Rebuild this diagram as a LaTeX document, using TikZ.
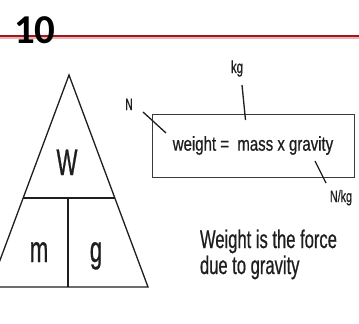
\documentclass[tikz,border=0pt]{standalone}
\usepackage{fontspec}
\setmainfont{Liberation Sans}
\newfontfamily\titlefont{Carlito}
\newfontfamily\cnA[FakeStretch=0.6,FakeBold=0.6]{Liberation Sans}
\newfontfamily\cnB[FakeStretch=0.65,FakeBold=0.6]{Liberation Sans}
\newfontfamily\cnC[FakeStretch=0.75,FakeBold=0.6]{Liberation Sans}
\definecolor{darkred}{HTML}{9E1A1A}
\definecolor{pinkline}{HTML}{E9B3B3}
\definecolor{ink}{HTML}{1E1E1E}
\definecolor{boxline}{HTML}{3A3A3A}
\tikzset{
  lbl/.style={inner sep=0pt, outer sep=0pt, text=ink, anchor=base},
  bigl/.style={lbl, font=\cnA\fontsize{37}{40}\selectfont},
  smalll/.style={lbl, font=\cnB\fontsize{16.5}{18}\selectfont},
  tick/.style={draw=ink, line width=1.3pt},
  tri/.style={draw=ink, line width=1.3pt},
  eqbox/.style={draw=boxline, line width=1pt, minimum width=202pt, minimum height=63pt, inner sep=0pt,
    text=ink, font=\cnC\fontsize{20}{24}\selectfont},
  sent/.style={lbl, anchor=base west, font=\cnB\fontsize{25.5}{24}\selectfont}
}
\begin{document}
\begin{tikzpicture}[x=1pt, y=-1pt]
\useasboundingbox (0,0) rectangle (359,324);
\fill[white] (0,0) rectangle (359,324);
% header rule
\draw[pinkline, line width=2pt] (0,37.7) -- (359,37.7);
\draw[darkred, line width=2pt] (0,35.5) -- (359,35.5);
\node[inner sep=0pt, anchor=base west, font=\titlefont\bfseries\fontsize{41}{44}\selectfont] (title) at (14,43) {10};
% triangle
\begin{scope}
\clip (0,0) rectangle (359,324);
\draw[tri, line join=miter] (69,75) -- (148,287) -- (-10,287) -- cycle;
\draw[tri] (23.2,198) -- (114.8,198);
\draw[tri] (68,198) -- (68,287);
\end{scope}
\node[bigl] (W) at (67,175) {W};
\node[bigl] (m) at (39,262) {m};
\node[bigl] (g) at (96,262) {g};
% equation box
\node[eqbox] (box) at (253,145.5) {weight =\ \ mass x gravity};
\node[smalll, font=\cnA\fontsize{16.5}{18}\selectfont] (N) at (129,110) {N};
\node[smalll, font=\cnB\fontsize{17.5}{19}\selectfont] (kg) at (237,73) {kg};
\node[smalll] (Nkg) at (341,202) {N/kg};
\coordinate (nA) at (143,112);
\coordinate (nB) at (166,133);
\coordinate (kA) at (242,85);
\coordinate (kB) at (245.5,120);
\coordinate (gA) at (315,161);
\coordinate (gB) at (326,183);
\draw[tick] (nA) -- (nB);
\draw[tick] (kA) -- (kB);
\draw[tick] (gA) -- (gB);
% sentence
\node[sent] (s1) at (200,248) {Weight is the force};
\node[sent] (s2) at (200,274) {due to gravity};
\end{tikzpicture}
\end{document}
